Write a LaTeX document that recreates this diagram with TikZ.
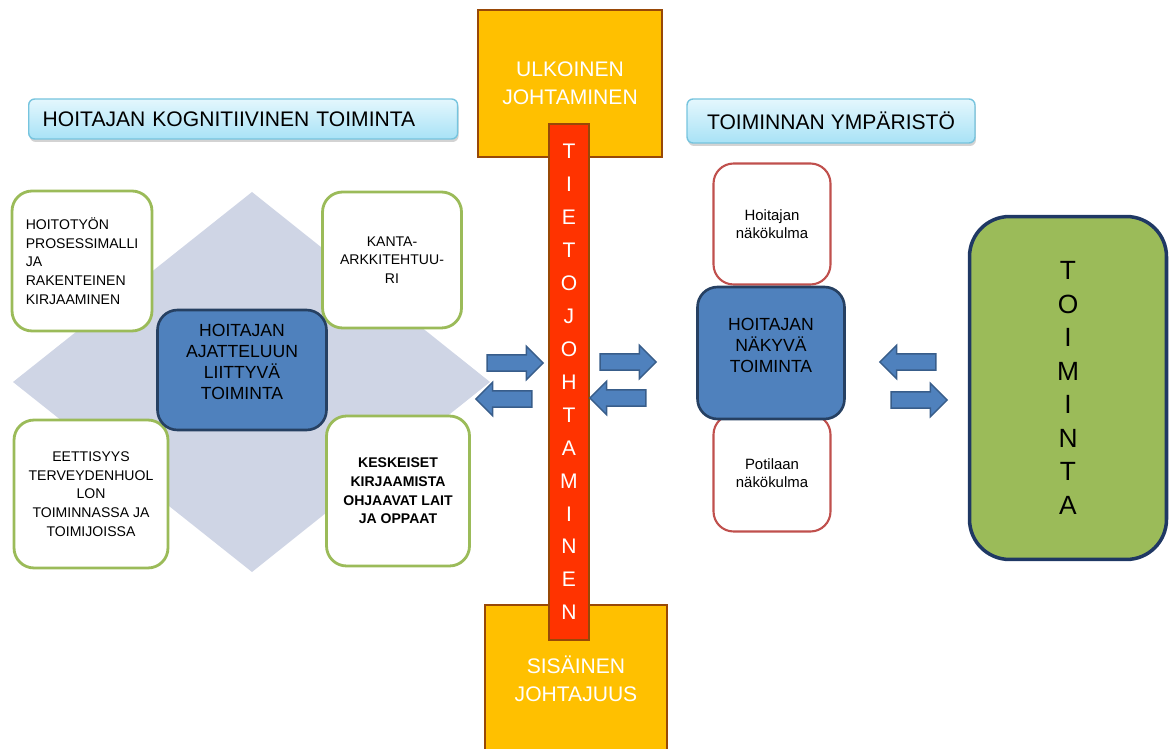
\documentclass[tikz,border=0pt]{standalone}
\usepackage{fontspec}
\setmainfont{Liberation Sans}
\usetikzlibrary{shapes.arrows,shadows}

\definecolor{diamondgrey}{RGB}{207,213,229}
\definecolor{boxgreen}{RGB}{155,187,89}
\definecolor{boxblue}{RGB}{79,129,189}
\definecolor{blueedge}{RGB}{38,64,98}
\definecolor{arrowedge}{RGB}{56,93,138}
\definecolor{boxred}{RGB}{192,80,77}
\definecolor{leadorange}{RGB}{255,192,0}
\definecolor{leadbrown}{RGB}{152,72,7}
\definecolor{barred}{RGB}{255,51,0}
\definecolor{titletop}{RGB}{228,247,253}
\definecolor{titlebottom}{RGB}{168,226,246}
\definecolor{titleedge}{RGB}{118,196,222}
\definecolor{actionedge}{RGB}{31,56,100}

\tikzset{
	titlebox/.style={draw=titleedge, line width=0.8pt, rounded corners=0.12cm, top color=titletop, bottom color=titlebottom, drop shadow={opacity=0.35, shadow xshift=0.02cm, shadow yshift=-0.06cm}, font=\fontsize{12}{14}\selectfont, inner sep=0pt},
	greenbox/.style={draw=boxgreen, line width=1.6pt, fill=white, rounded corners=0.4cm, font=\fontsize{8}{10.6}\selectfont, align=center, inner sep=0pt},
	bluebox/.style={draw=blueedge, line width=1.5pt, fill=boxblue, rounded corners=0.4cm, font=\fontsize{10}{11.9}\selectfont, align=center, inner sep=0pt, text depth=0.32cm},
	redbox/.style={draw=boxred, line width=1.2pt, fill=white, rounded corners=0.4cm, font=\fontsize{8.5}{10.4}\selectfont, align=center, inner sep=0pt},
	leadbox/.style={draw=leadbrown, line width=1.5pt, fill=leadorange, text=white, font=\fontsize{12}{15.9}\selectfont, align=center, inner sep=0pt},
	infobar/.style={draw=leadbrown, line width=1.2pt, fill=barred, text=white, font=\fontsize{12}{18.75}\selectfont, align=center, inner sep=0pt},
	actionbox/.style={draw=actionedge, line width=2pt, fill=boxgreen, rounded corners=0.8cm, font=\fontsize{15}{19.1}\selectfont, align=center, inner sep=0pt},
	blockarrow/.style={single arrow, draw=arrowedge, fill=boxblue, line width=0.8pt, minimum height=1.12cm, inner xsep=0pt, inner ysep=0.15cm, single arrow head extend=0.17cm, single arrow tip angle=90}
}

\begin{document}
\begin{tikzpicture}[x=0.02cm, y=-0.02cm]
	%%%%% START %%%%%
	\useasboundingbox (0,0) rectangle (1172,749);
	
	% cognitive side
	\fill[diamondgrey] (252,192) -- (490,382) -- (252,572) -- (13,382) -- cycle;
	
	\node[titlebox, anchor=west, minimum width=8.58cm, minimum height=0.8cm, text width=8.02cm, inner xsep=0.28cm, align=left] (cogtitle) at (28,119) {HOITAJAN KOGNITIIVINEN TOIMINTA};
	
	\node[greenbox, minimum width=2.8cm, minimum height=2.8cm, align=left] (process) at (82,261) {HOITOTYÖN\\PROSESSIMALLI\\JA\\RAKENTEINEN\\KIRJAAMINEN};
	\node[greenbox, minimum width=2.78cm, minimum height=2.72cm] (kanta) at (392,260) {KANTA-\\ARKKITEHTUU-\\RI};
	\node[greenbox, minimum width=3.08cm, minimum height=2.96cm] (ethics) at (91,494) {EETTISYYS\\TERVEYDENHUOL\\LON\\TOIMINNASSA JA\\TOIMIJOISSA};
	\node[greenbox, minimum width=2.86cm, minimum height=3cm, font=\fontsize{8}{10.6}\selectfont\bfseries] (laws) at (398,491) {KESKEISET\\KIRJAAMISTA\\OHJAAVAT LAIT\\JA OPPAAT};
	
	\node[bluebox, minimum width=3.38cm, minimum height=2.4cm] (thinking) at (242,370) {HOITAJAN\\AJATTELUUN\\LIITTYVÄ\\TOIMINTA};
	
	% leadership column
	\node[leadbox, minimum width=3.68cm, minimum height=2.94cm] (external) at (570,83.5) {ULKOINEN\\JOHTAMINEN};
	\node[leadbox, minimum width=3.64cm, minimum height=2.96cm] (internal) at (576,679) {SISÄINEN\\JOHTAJUUS};
	\node[infobar, minimum width=0.8cm, minimum height=10.32cm] (infolead) at (569,382) {T\\I\\E\\T\\O\\J\\O\\H\\T\\A\\M\\I\\N\\E\\N};
	
	\node[blockarrow] (cogout) at (511,363) {};
	\node[blockarrow, shape border rotate=180] (cogin) at (508,399) {};
	\node[blockarrow] (envin) at (624,362) {};
	\node[blockarrow, shape border rotate=180] (envout) at (622,398) {};
	
	% environment side
	\node[titlebox, minimum width=5.76cm, minimum height=0.88cm] (envtitle) at (831,121) {TOIMINNAN YMPÄRISTÖ};
	
	\node[redbox, minimum width=2.34cm, minimum height=2.42cm] (nurseview) at (772,224) {Hoitajan\\näkökulma};
	\node[redbox, minimum width=2.34cm, minimum height=2.34cm] (patientview) at (772,473) {Potilaan\\näkökulma};
	\node[bluebox, minimum width=2.94cm, minimum height=2.64cm] (visible) at (771,353) {HOITAJAN\\NÄKYVÄ\\TOIMINTA};
	
	\node[blockarrow, shape border rotate=180] (actback) at (912,362) {};
	\node[blockarrow] (acttoward) at (915,400) {};
	
	\node[actionbox, minimum width=3.94cm, minimum height=6.86cm] (action) at (1068,388) {T\\O\\I\\M\\I\\N\\T\\A};
	
	%%%%% END %%%%%
\end{tikzpicture}
\end{document}
